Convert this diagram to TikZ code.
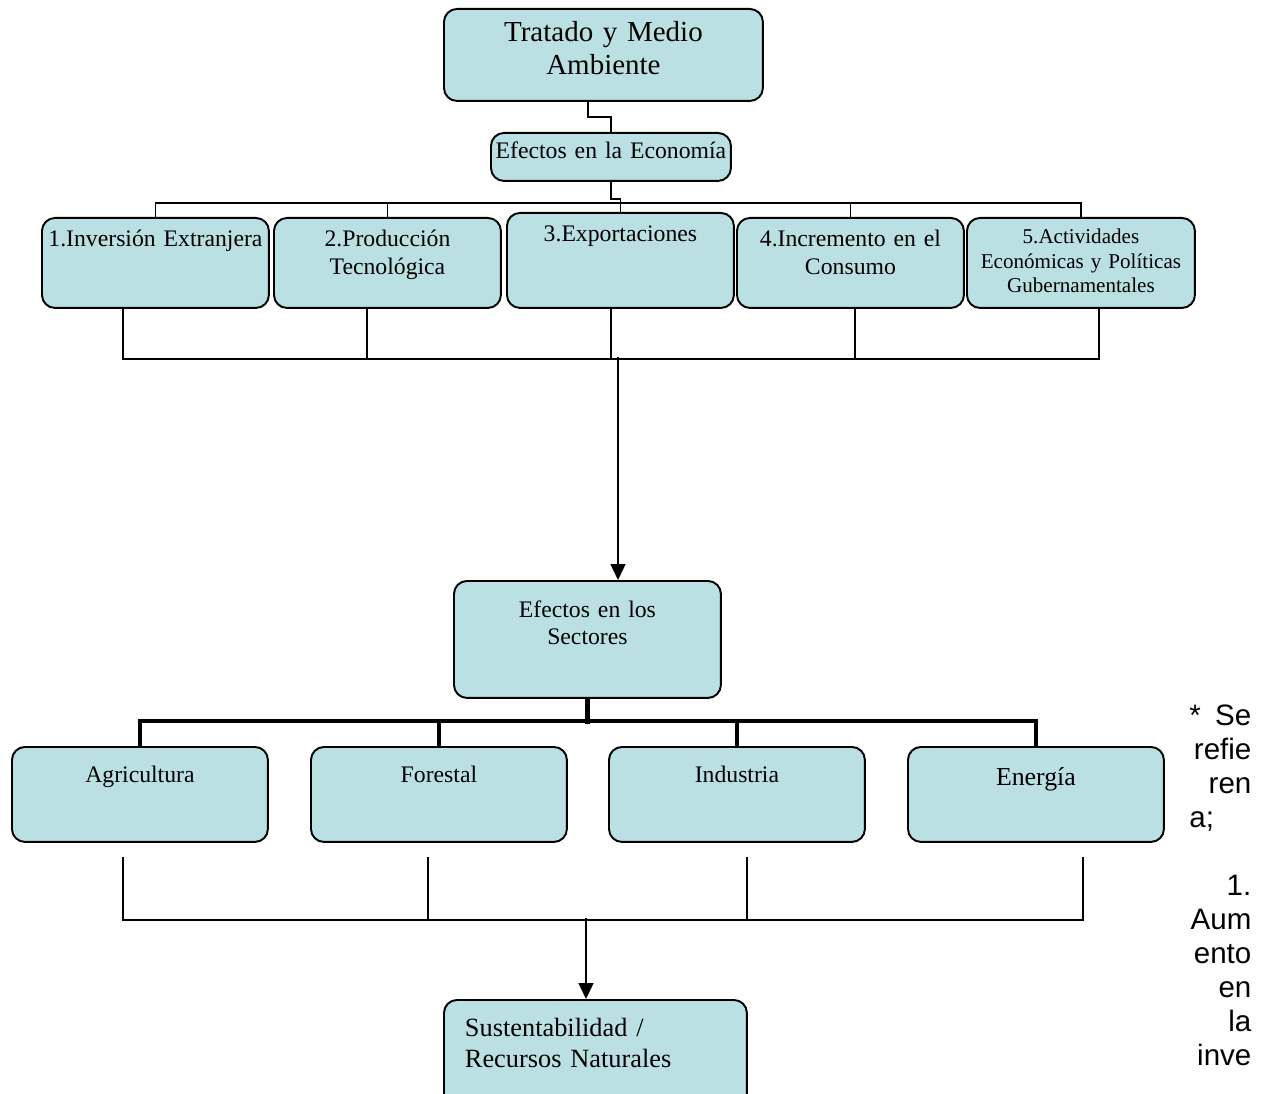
\documentclass[tikz,border=0pt]{standalone}
\usepackage{fontspec}
\setmainfont{Liberation Serif}
\newfontfamily\notafont{Liberation Sans}
\usepackage{tikz}
\usetikzlibrary{arrows.meta}
\definecolor{celeste}{RGB}{187,224,228}

\begin{document}
\begin{tikzpicture}[x=0.02cm, y=-0.02cm]
               \tikzstyle{caja}=[draw, line width=1.1pt, rounded corners=0.26cm, fill=celeste, anchor=north west, inner xsep=0pt, inner ysep=0pt, align=center]
               \tikzstyle{linea}=[line width=0.7pt]
               \tikzstyle{grueso}=[line width=2.7pt]
               \tikzstyle{flecha}=[line width=0.8pt, -{Triangle[length=0.32cm, width=0.3cm]}]

               \useasboundingbox (0,0) rectangle (1261,1094);

               % arriba
               \node[caja, text width=6.38cm, text height=0.66cm, text depth=1.18cm, font=\fontsize{16.5}{18.7}\selectfont] (titulo) at (443,8) {Tratado y Medio\\ Ambiente};
               \node[caja, text width=4.8cm, text height=0.52cm, text depth=0.44cm, font=\fontsize{13.5}{16}\selectfont] (eco) at (490,132) {Efectos en la Econom\'ia};

               % efectos en la economia
               \tikzset{econ/.style={caja, text width=4.54cm, text height=0.58cm, text depth=1.22cm, font=\fontsize{13.5}{15.9}\selectfont}}
               \node[econ] (e1) at (41,217) {1.Inversi\'on Extranjera};
               \node[econ] (e2) at (273,217) {2.Producci\'on\\ Tecnol\'ogica};
               \node[econ, text depth=1.32cm] (e3) at (506,212) {3.Exportaciones};
               \node[econ] (e4) at (736,217) {4.Incremento en el\\ Consumo};
               \node[econ, text width=4.56cm, text height=0.52cm, text depth=1.28cm, font=\fontsize{12}{13.9}\selectfont] (e5) at (966,217) {5.Actividades\\ Econ\'omicas y Pol\'iticas\\ Gubernamentales};

               \node[caja, text width=5.34cm, text height=0.74cm, text depth=1.6cm, font=\fontsize{13.5}{15.3}\selectfont] (sectores) at (453,580) {Efectos en los\\ Sectores};

               % sectores
               \tikzset{sector/.style={caja, text width=5.12cm, text height=0.72cm, text depth=1.18cm, font=\fontsize{13.5}{16}\selectfont}}
               \node[sector] (s1) at (11,746) {Agricultura};
               \node[sector] (s2) at (310,746) {Forestal};
               \node[sector] (s3) at (608,746) {Industria};
               \node[sector, text height=0.78cm, text depth=1.12cm, font=\fontsize{14.7}{17}\selectfont] (s4) at (907,746) {Energ\'ia};

               \node[caja, align=left, inner xsep=0.42cm, text width=5.22cm, text height=0.74cm, text depth=1.42cm, font=\fontsize{15}{17.6}\selectfont] (sust) at (443,999) {Sustentabilidad /\\ Recursos Naturales};

               % nota
               \node[anchor=base west, inner sep=0pt, text width=1.24cm, align=right, font=\notafont\fontsize{16.8}{19.4}\selectfont] (nota) at (1189,725)
                    {*\hskip0pt plus1fill Se\\ refie\\ ren\\ a;\hskip0pt plus1fill\mbox{}\\ \mbox{}\\ 1.\\ Aum\\ ento\\ en\\ la\\ inve};

               % conectores de arriba
               \draw[linea] ([xshift=-0.31cm]titulo.south) -- ++(0,-0.3cm) -| (eco.north);
               \draw[linea] (eco.south) -- ++(0,-0.34cm) -| (e3.north);
               \draw[linea] (e1.north) -- ++(0,0.28cm) -| (e5.north);
               \draw[linea] (e2.north) -- ++(0,0.28cm);
               \draw[linea] (e4.north) -- ++(0,0.28cm);

               \draw[linea] ([xshift=-0.65cm]e1.south) -- ++(0,-1cm) -| ([xshift=0.36cm]e5.south);
               \foreach \n/\d in {e2/-0.41, e3/-0.19, e4/0.09}
                    \draw[linea] ([xshift=\d cm]\n.south) -- ++(0,-1cm);
               \coordinate (bajo) at (618,357);
               \draw[flecha] (bajo) -- (bajo |- sectores.north);

               % conectores de abajo
               \draw[grueso] (sectores.south) -- ++(0,-0.5cm);
               \draw[grueso] (s1.north) -- ++(0,0.5cm) -| (s4.north);
               \draw[grueso] (s2.north) -- ++(0,0.5cm);
               \draw[grueso] (s3.north) -- ++(0,0.5cm);

               \draw[linea] ([xshift=-0.34cm, yshift=-0.28cm]s1.south) -- ++(0,-1.26cm) -| ([xshift=0.94cm, yshift=-0.28cm]s4.south);
               \draw[linea] ([xshift=-0.22cm, yshift=-0.28cm]s2.south) -- ++(0,-1.26cm);
               \draw[linea] ([xshift=0.2cm, yshift=-0.28cm]s3.south) -- ++(0,-1.26cm);
               \coordinate (bajo2) at (586,918);
               \draw[flecha] (bajo2) -- (bajo2 |- sust.north);
            \end{tikzpicture}
\end{document}
